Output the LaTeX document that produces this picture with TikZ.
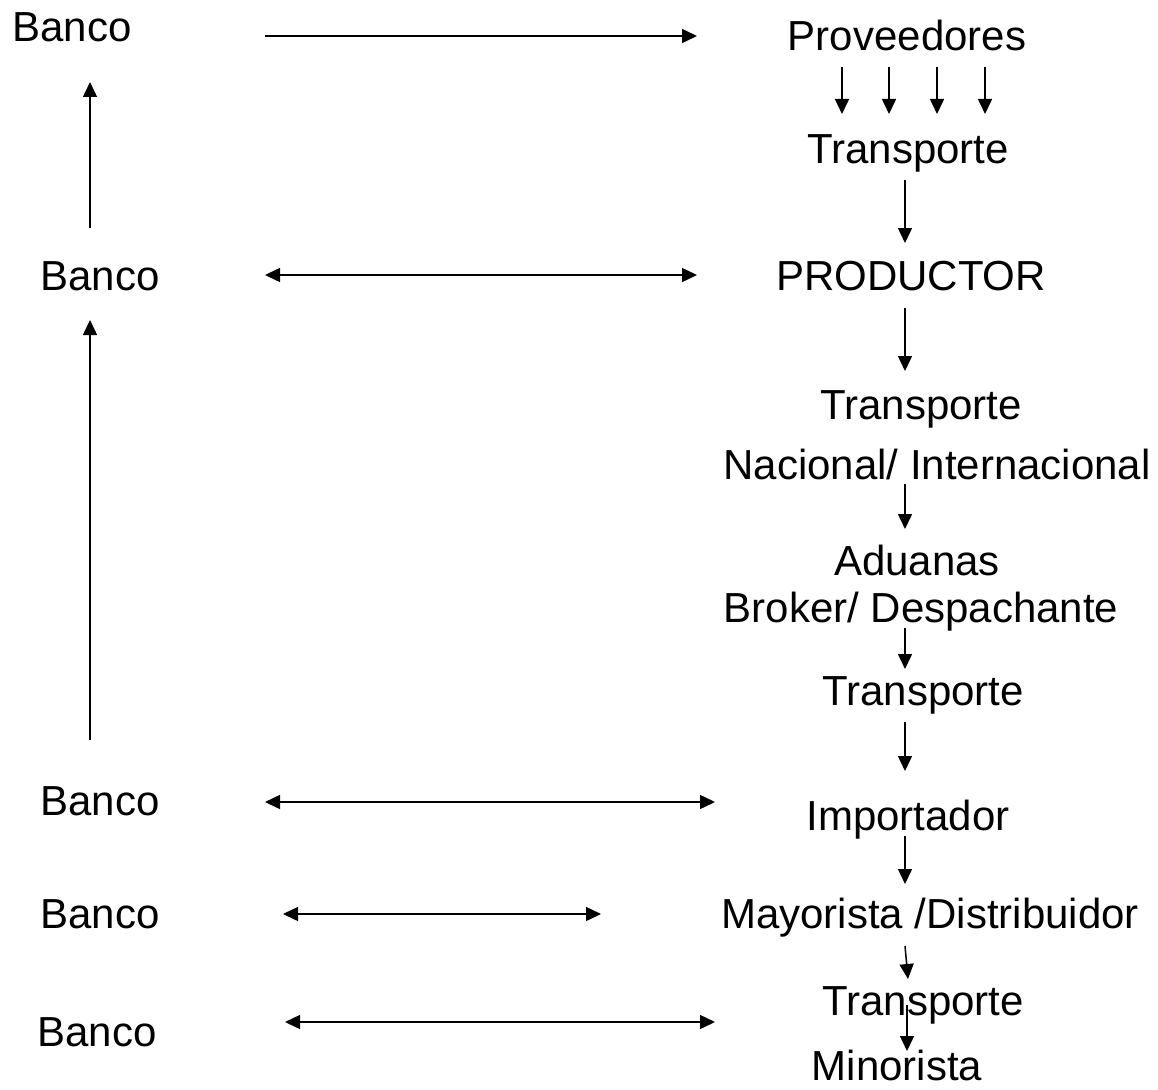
\documentclass[tikz,border=0pt]{standalone}
\usepackage{fontspec}
\setmainfont{Liberation Sans}
\usetikzlibrary{arrows.meta}
\begin{document}
\begin{tikzpicture}[x=1pt,y=-1pt,
  lbl/.style={anchor=base,inner sep=0pt,font=\fontsize{42}{48}\selectfont},
  arr/.style={line width=1.5pt,-{Triangle[length=15pt,width=14pt]}},
  darr/.style={line width=1.5pt,{Triangle[length=15pt,width=14pt]}-{Triangle[length=15pt,width=14pt]}}]
\useasboundingbox (0,0) rectangle (1158,1089);
% labels
\node[lbl] (b1) at (72,42) {Banco};
\node[lbl] (prov) at (907,51) {Proveedores};
\node[lbl] (t1) at (908,163) {Transporte};
\node[lbl] (b2) at (100,290) {Banco};
\node[lbl] (prod) at (911,290) {PRODUCTOR};
\node[lbl] (t2) at (921,419) {Transporte};
\node[lbl] (nac) at (937,479) {Nacional/ Internacional};
\node[lbl] (adu) at (917,575) {Aduanas};
\node[lbl] (brk) at (921,622) {Broker/ Despachante};
\node[lbl] (t3) at (923,705) {Transporte};
\node[lbl] (b3) at (100,815) {Banco};
\node[lbl] (imp) at (908,830) {Importador};
\node[lbl] (b4) at (100,928) {Banco};
\node[lbl] (may) at (930,928) {Mayorista /Distribuidor};
\node[lbl] (t4) at (923,1015) {Transporte};
\node[lbl] (b5) at (97,1046) {Banco};
\node[lbl] (min) at (897,1080) {Minorista};
% arrow end points
\coordinate (h1a) at (265,36); \coordinate (h1b) at (697,36);
\coordinate (h2a) at (265,275); \coordinate (h2b) at (697,275);
\coordinate (h3a) at (265,802); \coordinate (h3b) at (715,802);
\coordinate (h4a) at (283,914); \coordinate (h4b) at (601,914);
\coordinate (h5a) at (285,1022); \coordinate (h5b) at (715,1022);
\coordinate (u1a) at (90,228); \coordinate (u1b) at (90,82);
\coordinate (u2a) at (90,740); \coordinate (u2b) at (90,320);
\foreach \x/\n in {842/1,889/2,937/3,985/4}{
  \coordinate (p\n a) at (\x,67); \coordinate (p\n b) at (\x,114);
}
\coordinate (v1a) at (905,180); \coordinate (v1b) at (905,243);
\coordinate (v2a) at (905,308); \coordinate (v2b) at (905,371);
\coordinate (v3a) at (905,484); \coordinate (v3b) at (905,529);
\coordinate (v4a) at (905,628); \coordinate (v4b) at (905,669);
\coordinate (v5a) at (905,722); \coordinate (v5b) at (905,771);
\coordinate (v6a) at (905,836); \coordinate (v6b) at (905,884);
\coordinate (v7a) at (905,946); \coordinate (v7b) at (908,979);
\coordinate (v8a) at (907,1005); \coordinate (v8b) at (907,1051);
% connectors
\draw[arr] (h1a) -- (h1b);
\draw[darr] (h2a) -- (h2b);
\draw[darr] (h3a) -- (h3b);
\draw[darr] (h4a) -- (h4b);
\draw[darr] (h5a) -- (h5b);
\draw[arr] (u1a) -- (u1b);
\draw[arr] (u2a) -- (u2b);
\foreach \n in {1,2,3,4}{ \draw[arr] (p\n a) -- (p\n b); }
\foreach \n in {1,...,8}{ \draw[arr] (v\n a) -- (v\n b); }
\end{tikzpicture}
\end{document}
